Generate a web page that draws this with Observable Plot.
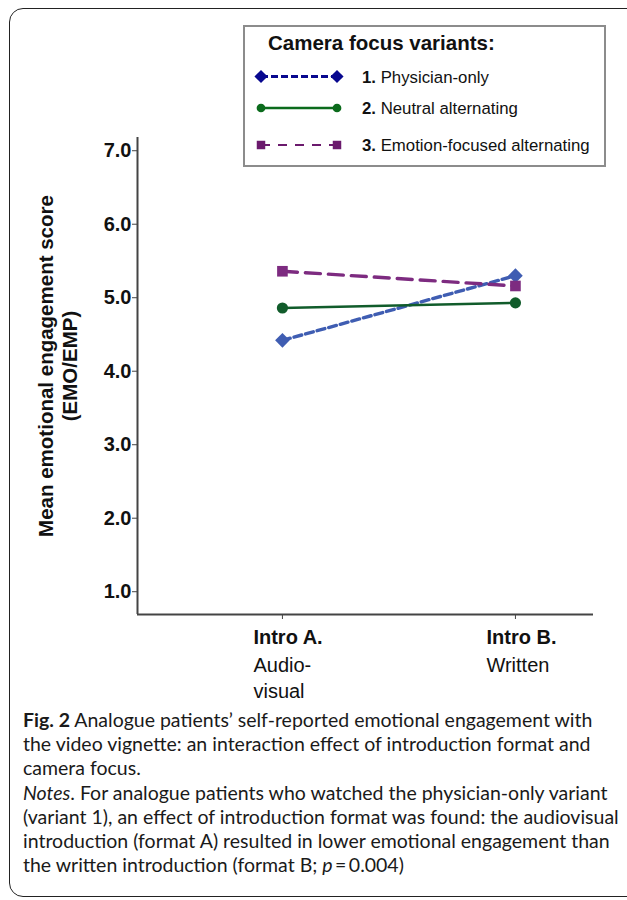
<!DOCTYPE html>
<html>
<head>
<meta charset="utf-8">
<script src="https://cdn.jsdelivr.net/npm/d3@7"></script>
<script src="https://cdn.jsdelivr.net/npm/@observablehq/plot@0.6"></script>
<style>
html, body { margin: 0; padding: 0; background: #fff; width: 627px; height: 900px; overflow: hidden; }
#wrap { position: relative; width: 627px; height: 900px; overflow: hidden; }
#chart { position: absolute; left: 0; top: 0; }
#border { position: absolute; left: 9px; top: 8px; width: 640px; height: 889px; border: 1.5px solid #222; border-radius: 14px; box-sizing: border-box; pointer-events: none; }
#legend { position: absolute; left: 243px; top: 25px; }
#caption { position: absolute; left: 23px; top: 708px; font-family: Lato, "Noto Sans", sans-serif; font-size: 19.5px; line-height: 24.2px; color: #1a1a1a; white-space: nowrap; }
</style>
</head>
<body>
<div id="wrap">
  <div id="chart"></div>
  <div id="legend"></div>
  <div id="caption"></div>
  <div id="border"></div>
</div>
<script>
// ---- data ----
const categories = ["Intro A.", "Intro B."];
const categorySubLabels = ["Audio-\nvisual", "Written"];
const seriesNumbers = ["1.", "2.", "3."];
const seriesNames = ["Physician-only", "Neutral alternating", "Emotion-focused alternating"];
const physicianOnly = [4.42, 5.30];
const neutralAlternating = [4.86, 4.93];
const emotionFocused = [5.36, 5.16];
const yTicks = [1, 2, 3, 4, 5, 6, 7];
const yTitle = "Mean emotional engagement score\n(EMO/EMP)";
const legendTitle = "Camera focus variants:";

// ---- styles per series ----
const seriesValues = [physicianOnly, neutralAlternating, emotionFocused];
const lineColors = ["#3f5db2", "#115c2b", "#7d2b80"];
const legendColors = ["#08088f", "#0b6b1c", "#6b1a6d"];
const symbols = ["diamond2", "circle", "square"];
const radii = [6.6, 5.6, 6.0];
const dashes = ["8,4", null, "15,8"];
const widths = [3.4, 2.4, 3.4];

const rows = [];
seriesValues.forEach((vals, s) => vals.forEach((v, i) => rows.push({s, i, v})));

const xDomain = [-0.622, 1.335];
const yDomain = [0.69, 7.18];

const marks = [
  Plot.ruleX([xDomain[0]], {y1: yDomain[0], y2: yDomain[1], stroke: "#444", strokeWidth: 2}),
  Plot.ruleY([yDomain[0]], {x1: xDomain[0], x2: xDomain[1], stroke: "#444", strokeWidth: 2}),
  Plot.axisY({ticks: yTicks, tickFormat: d3.format(".1f"), tickSize: 5, tickPadding: 1, label: null,
              fontSize: 20, fontWeight: "bold", stroke: "#444"}),
  Plot.axisX({ticks: categories.map((d, i) => i), tickSize: 5, tickFormat: () => "", label: null, stroke: "#444"}),
  Plot.text(categories, {x: (d, i) => i, text: d => d, frameAnchor: "bottom", lineAnchor: "top",
              textAnchor: "start", dx: -29, dy: 15, fontSize: 20, fontWeight: "bold", fill: "#111"}),
  Plot.text(categorySubLabels, {x: (d, i) => i, text: d => d, frameAnchor: "bottom", lineAnchor: "top",
              textAnchor: "start", dx: -29, dy: 39, fontSize: 20, fontWeight: "normal", lineHeight: 1.3, fill: "#111"}),
  Plot.text([yTitle], {text: d => d, frameAnchor: "left", textAnchor: "middle", lineAnchor: "middle",
              rotate: -90, dx: -80, dy: -10,
              fontSize: 20.5, fontWeight: "bold", lineHeight: 1.15, fill: "#111"})
];
seriesValues.forEach((vals, s) => {
  const data = rows.filter(r => r.s === s);
  marks.push(Plot.line(data, {x: "i", y: "v", stroke: lineColors[s], strokeWidth: widths[s],
                              strokeDasharray: dashes[s] || undefined}));
  marks.push(Plot.dot(data, {x: "i", y: "v", symbol: () => symbols[s], r: radii[s],
                             fill: lineColors[s], stroke: "none"}));
});

const chart = Plot.plot({
  width: 627,
  height: 700,
  marginLeft: 137,
  marginRight: 34,
  marginTop: 137,
  marginBottom: 86,
  x: {domain: xDomain, axis: null},
  y: {domain: yDomain, axis: null},
  symbol: {type: "identity"},
  style: {fontFamily: "'Liberation Sans', Arial, sans-serif", fontSize: "20px", fontWeight: "bold",
          color: "#111", background: "transparent", overflow: "visible"},
  marks
});
document.getElementById("chart").appendChild(chart);

// ---- legend ----
const lw = 363, lh = 142;
const lg = d3.select("#legend").append("svg").attr("width", lw).attr("height", lh)
  .style("font-family", "'Liberation Sans', Arial, sans-serif");
lg.append("rect").attr("x", 1).attr("y", 1).attr("width", lw - 2).attr("height", lh - 2)
  .attr("fill", "#fff").attr("stroke", "#8c8c8c").attr("stroke-width", 2);
lg.append("text").attr("x", 25).attr("y", 25).attr("font-size", 20.5).attr("font-weight", "bold")
  .attr("fill", "#111").text(legendTitle);
const rowY = [51.5, 83, 120];
const legendSym = [d3.symbolDiamond2, d3.symbolCircle, d3.symbolSquare];
const legendSize = [110, 60, 72];
const legendDash = ["7,3", null, "9,8"];
const legendWidth = [3, 2.4, 2.2];
seriesNames.forEach((name, s) => {
  const g = lg.append("g").attr("transform", `translate(0,${rowY[s]})`);
  g.append("line").attr("x1", 18).attr("x2", 94).attr("y1", 0).attr("y2", 0)
    .attr("stroke", legendColors[s]).attr("stroke-width", legendWidth[s])
    .attr("stroke-dasharray", legendDash[s]);
  [18, 94].forEach(x => g.append("path").attr("transform", `translate(${x},0)`)
    .attr("d", d3.symbol(legendSym[s], legendSize[s])()).attr("fill", legendColors[s]));
  const t = g.append("text").attr("x", 119).attr("y", 6).attr("font-size", 16.8).attr("fill", "#111");
  t.append("tspan").attr("font-weight", "bold").text(seriesNumbers[s] + " ");
  t.append("tspan").text(name);
});

// ---- caption ----
const captionLines = [
  "<b>Fig. 2</b> Analogue patients’ self-reported emotional engagement with",
  "the video vignette: an interaction effect of introduction format and",
  "camera focus.",
  "<i>Notes</i>. For analogue patients who watched the physician-only variant",
  "(variant 1), an effect of introduction format was found: the audiovisual",
  "introduction (format A) resulted in lower emotional engagement than",
  "the written introduction (format B; <i>p</i>&#8201;=&#8201;0.004)"
];
document.getElementById("caption").innerHTML = captionLines.map(l => `<div>${l}</div>`).join("");
</script>
</body>
</html>
